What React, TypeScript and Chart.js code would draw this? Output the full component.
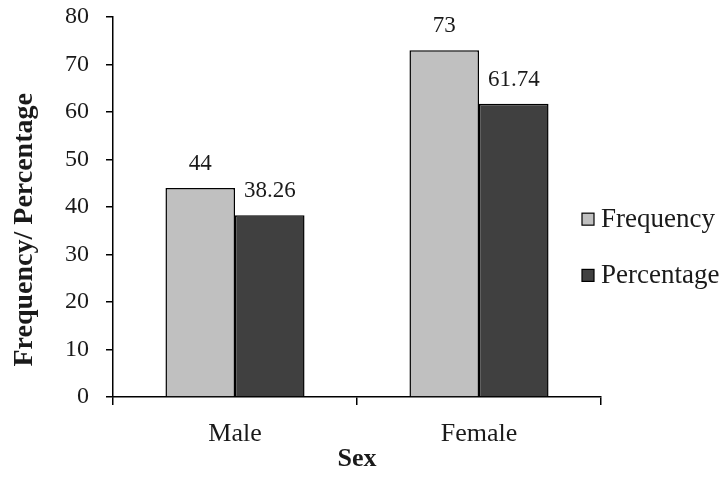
import React, { useEffect, useRef } from "react";
import { Chart, registerables } from "chart.js";

Chart.register(...registerables);

const categories = ["Male", "Female"];
const frequency = [44, 73];
const percentage = [38.26, 61.74];
const seriesNames = ["Frequency", "Percentage"];
const seriesColors = ["#C0C0C0", "#404040"];
const yTicksMax = 80;
const yTickStep = 10;

const FONT = "'Liberation Serif', 'Times New Roman', serif";
const TEXT = "#1a1a1a";

const valueLabels = {
  id: "valueLabels",
  afterDatasetsDraw(chart: any) {
    const ctx = chart.ctx;
    ctx.save();
    ctx.font = `23px ${FONT}`;
    ctx.fillStyle = TEXT;
    ctx.textAlign = "center";
    ctx.textBaseline = "alphabetic";
    chart.data.datasets.forEach((ds: any, i: number) => {
      const meta = chart.getDatasetMeta(i);
      meta.data.forEach((el: any, j: number) => {
        ctx.fillText(String(ds.data[j]), el.x, el.y - 18);
      });
    });
    ctx.restore();
  },
};

const customLegendAndTitle = {
  id: "customLegendAndTitle",
  afterDraw(chart: any) {
    const ctx = chart.ctx;
    const area = chart.chartArea;
    ctx.save();
    // y axis title
    ctx.translate(area.left - 88, area.top + (area.bottom - area.top) * 0.56);
    ctx.rotate(-Math.PI / 2);
    ctx.font = `bold 28px ${FONT}`;
    ctx.fillStyle = TEXT;
    ctx.textAlign = "center";
    ctx.textBaseline = "middle";
    ctx.fillText("Frequency/ Percentage", 0, 0);
    ctx.restore();

    // legend
    ctx.save();
    ctx.font = `27px ${FONT}`;
    ctx.textBaseline = "middle";
    ctx.textAlign = "left";
    const h = area.bottom - area.top;
    const ys = [area.top + h * 0.532, area.top + h * 0.68];
    chart.data.datasets.forEach((ds: any, i: number) => {
      const bx = area.right - 19;
      const by = ys[i] - 6;
      ctx.fillStyle = ds.backgroundColor;
      ctx.fillRect(bx, by, 12, 12);
      ctx.strokeStyle = "#000";
      ctx.lineWidth = 1.2;
      ctx.strokeRect(bx, by, 12, 12);
      ctx.fillStyle = TEXT;
      ctx.fillText(ds.label, bx + 19, ys[i] + 1);
    });
    ctx.restore();
  },
};

export default function App() {
  const ref = useRef<HTMLCanvasElement | null>(null);
  useEffect(() => {
    if (!ref.current) return;
    const chart = new Chart(ref.current, {
      type: "bar",
      data: {
        labels: categories,
        datasets: [
          {
            label: seriesNames[0],
            data: frequency,
            backgroundColor: seriesColors[0],
            borderColor: "#000",
            borderWidth: 1.5,
            borderSkipped: "bottom",
            categoryPercentage: 0.57,
            barPercentage: 1,
          },
          {
            label: seriesNames[1],
            data: percentage,
            backgroundColor: seriesColors[1],
            borderColor: "#000",
            borderWidth: 1.5,
            borderSkipped: "bottom",
            categoryPercentage: 0.57,
            barPercentage: 1,
          },
        ],
      },
      options: {
        responsive: false,
        animation: false,
        devicePixelRatio: 1,
        layout: { padding: { left: 0, top: 17, right: 124, bottom: 0 } },
        plugins: {
          legend: { display: false },
          tooltip: { enabled: false },
        },
        scales: {
          x: {
            grid: {
              display: true,
              drawOnChartArea: false,
              drawTicks: true,
              tickLength: 8,
              color: "#000",
              lineWidth: 1.5,
              offset: true,
            },
            border: { display: true, color: "#000", width: 1.5 },
            ticks: {
              color: TEXT,
              font: { family: FONT, size: 26 },
              padding: 14,
            },
            title: {
              display: true,
              text: "Sex",
              color: TEXT,
              font: { family: FONT, size: 26, weight: "bold" },
              padding: { top: 0, bottom: 4 },
            },
            afterFit(scale: any) {
              scale.height = 82;
              scale.paddingLeft = 0;
              scale.paddingRight = 0;
            },
          },
          y: {
            min: 0,
            max: yTicksMax,
            ticks: {
              stepSize: yTickStep,
              color: TEXT,
              font: { family: FONT, size: 24 },
              padding: 17,
            },
            grid: {
              display: true,
              drawOnChartArea: false,
              drawTicks: true,
              tickLength: 7,
              color: "#000",
              lineWidth: 1.5,
            },
            border: { display: true, color: "#000", width: 1.5 },
            afterFit(scale: any) {
              scale.width = 113;
              scale.paddingTop = 0;
              scale.paddingBottom = 0;
            },
          },
        },
      },
      plugins: [valueLabels, customLegendAndTitle],
    });
    return () => chart.destroy();
  }, []);
  return (
    <div style={{ position: "absolute", left: 0, top: 0, width: 725, height: 479, background: "#fff" }}>
      <canvas ref={ref} width={725} height={479} />
    </div>
  );
}
